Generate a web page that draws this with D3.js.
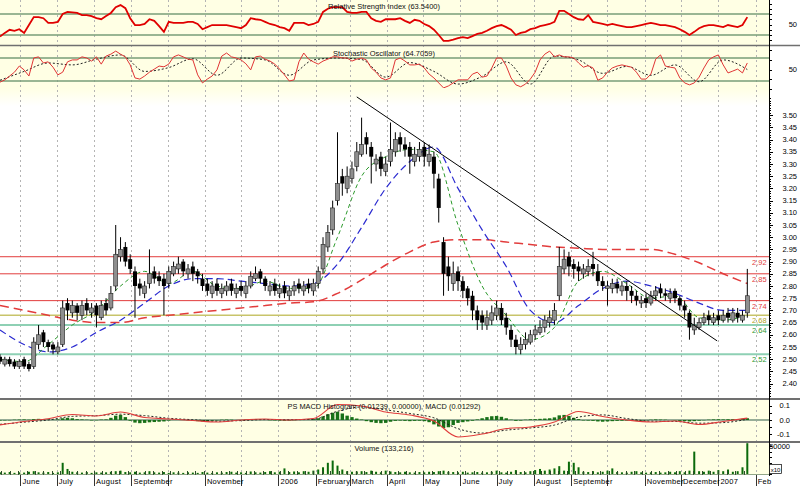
<!DOCTYPE html>
<html><head><meta charset="utf-8">
<script src="https://cdn.jsdelivr.net/npm/d3@7"></script>
<style>body{margin:0;background:#fff} svg{display:block} text{font-family:"Liberation Sans",Arial,sans-serif}</style>
</head><body><svg id="c" width="800" height="486"></svg>
<script>
// ---------------- DATA ----------------
const startDate = "2005-05-15";   // first sample
const stepDays = 4;               // sample spacing (calendar days)
const sparseEvery = 5;            // moving averages / MACD lines sampled every 5th point
const axisStart = "2005-05-15", axisEnd = "2007-02-12";

const priceOpen = [
2.51,2.48,2.50,2.49,2.47,2.50,2.48,2.47,2.56,2.61,
2.57,2.56,2.53,2.56,2.73,2.69,2.72,2.68,2.73,2.69,
2.72,2.67,2.73,2.71,2.80,2.92,2.96,2.91,2.86,2.81,
2.77,2.81,2.86,2.84,2.83,2.81,2.85,2.87,2.90,2.85,
2.88,2.86,2.83,2.81,2.77,2.81,2.77,2.78,2.81,2.77,
2.80,2.77,2.80,2.83,2.86,2.83,2.78,2.81,2.77,2.80,
2.76,2.78,2.81,2.78,2.81,2.78,2.81,2.87,2.96,3.03,
3.15,3.25,3.20,3.24,3.29,3.34,3.41,3.37,3.30,3.33,
3.27,3.31,3.35,3.41,3.38,3.37,3.31,3.33,3.37,3.31,
3.33,3.24,2.98,2.88,2.81,2.86,2.82,2.79,2.76,2.70,
2.68,2.64,2.66,2.68,2.71,2.67,2.62,2.58,2.54,2.56,
2.57,2.60,2.61,2.63,2.65,2.66,2.76,2.87,2.92,2.89,
2.88,2.85,2.86,2.89,2.86,2.82,2.79,2.79,2.81,2.78,
2.80,2.78,2.76,2.73,2.75,2.73,2.76,2.79,2.77,2.75,
2.78,2.75,2.72,2.69,2.62,2.63,2.65,2.68,2.65,2.68,
2.66,2.69,2.66,2.69,2.66,2.69];
const priceHigh = [
2.52,2.51,2.51,2.50,2.50,2.51,2.49,2.59,2.64,2.62,
2.58,2.57,2.57,2.74,2.75,2.74,2.73,2.74,2.75,2.73,
2.73,2.74,2.75,2.80,3.05,3.00,2.98,2.93,2.88,2.83,
2.82,2.95,2.88,2.86,2.85,2.88,2.90,2.92,2.91,2.89,
2.90,2.87,2.85,2.83,2.82,2.83,2.81,2.82,2.83,2.81,
2.82,2.82,2.86,2.88,2.87,2.84,2.82,2.83,2.81,2.82,
2.80,2.82,2.83,2.82,2.83,2.83,2.88,3.00,3.05,3.15,
3.43,3.28,3.29,3.31,3.39,3.49,3.43,3.39,3.34,3.35,
3.33,3.47,3.43,3.43,3.41,3.39,3.37,3.39,3.39,3.38,
3.35,3.26,3.00,2.92,2.90,2.88,2.84,2.80,2.78,2.72,
2.70,2.70,2.72,2.74,2.73,2.69,2.64,2.60,2.59,2.61,
2.62,2.64,2.66,2.68,2.70,2.73,2.96,2.95,2.94,2.91,
2.90,2.89,2.91,2.94,2.89,2.84,2.82,2.83,2.83,2.82,
2.82,2.80,2.78,2.76,2.77,2.78,2.80,2.81,2.79,2.79,
2.79,2.76,2.74,2.70,2.67,2.67,2.69,2.70,2.69,2.70,
2.70,2.71,2.71,2.71,2.70,2.87];
const priceLow = [
2.48,2.47,2.47,2.46,2.46,2.46,2.45,2.46,2.54,2.55,
2.53,2.52,2.52,2.55,2.66,2.67,2.66,2.66,2.68,2.67,
2.63,2.66,2.68,2.70,2.78,2.90,2.88,2.85,2.67,2.76,
2.75,2.79,2.81,2.80,2.68,2.79,2.84,2.85,2.84,2.83,
2.82,2.81,2.78,2.76,2.75,2.76,2.75,2.76,2.76,2.75,
2.76,2.75,2.79,2.82,2.81,2.78,2.76,2.76,2.75,2.75,
2.74,2.76,2.77,2.76,2.77,2.76,2.79,2.85,2.94,3.01,
3.13,3.17,3.18,3.22,3.27,3.33,3.34,3.22,3.27,3.25,
3.25,3.29,3.33,3.35,3.33,3.26,3.29,3.31,3.29,3.29,
3.20,3.06,2.76,2.78,2.78,2.78,2.75,2.72,2.66,2.62,
2.62,2.62,2.64,2.66,2.64,2.60,2.55,2.52,2.52,2.54,
2.56,2.58,2.60,2.61,2.63,2.64,2.74,2.85,2.84,2.83,
2.82,2.83,2.84,2.84,2.80,2.78,2.72,2.77,2.77,2.76,
2.74,2.73,2.72,2.71,2.71,2.72,2.74,2.75,2.74,2.73,
2.73,2.70,2.67,2.58,2.60,2.62,2.64,2.64,2.64,2.64,
2.65,2.65,2.65,2.65,2.65,2.67];
const priceClose = [
2.49,2.50,2.48,2.47,2.49,2.47,2.46,2.57,2.60,2.57,
2.55,2.54,2.55,2.71,2.70,2.72,2.69,2.72,2.70,2.71,
2.68,2.72,2.70,2.77,2.93,2.95,2.90,2.87,2.80,2.79,
2.80,2.85,2.83,2.82,2.80,2.86,2.88,2.89,2.86,2.87,
2.85,2.84,2.80,2.78,2.80,2.78,2.79,2.80,2.78,2.79,
2.78,2.80,2.84,2.85,2.83,2.80,2.80,2.78,2.79,2.77,
2.78,2.80,2.79,2.80,2.79,2.81,2.86,2.97,3.02,3.12,
3.22,3.22,3.25,3.28,3.35,3.38,3.38,3.33,3.32,3.28,
3.30,3.36,3.40,3.38,3.36,3.33,3.34,3.36,3.33,3.34,
3.26,3.12,2.85,2.84,2.85,2.82,2.78,2.75,2.70,2.66,
2.65,2.67,2.69,2.71,2.66,2.63,2.58,2.55,2.56,2.58,
2.60,2.62,2.63,2.66,2.67,2.70,2.88,2.91,2.88,2.87,
2.86,2.87,2.88,2.87,2.82,2.80,2.80,2.81,2.79,2.80,
2.78,2.76,2.74,2.74,2.73,2.76,2.78,2.77,2.76,2.77,
2.75,2.72,2.70,2.63,2.64,2.65,2.67,2.66,2.67,2.66,
2.68,2.67,2.69,2.67,2.68,2.76];

// moving averages (every 5th sample)
const maShort = [2.50,2.49,2.56,2.64,2.70,2.80,2.86,2.81,2.86,2.80,
 2.79,2.82,2.79,2.79,3.00,3.25,3.33,3.36,3.35,3.05,
 2.80,2.68,2.58,2.63,2.82,2.86,2.81,2.75,2.76,2.67,2.66,2.68];
const maMid = [2.62,2.56,2.53,2.55,2.61,2.66,2.73,2.80,2.83,2.83,
 2.82,2.81,2.80,2.81,2.89,3.04,3.20,3.31,3.37,3.20,
 3.03,2.88,2.70,2.65,2.72,2.79,2.82,2.80,2.77,2.73,2.70,2.70];
const maLong = [2.72,2.70,2.68,2.66,2.65,2.65,2.67,2.68,2.69,2.70,
 2.71,2.72,2.73,2.735,2.77,2.825,2.886,2.94,2.98,2.99,
 2.99,2.98,2.97,2.96,2.955,2.95,2.95,2.95,2.93,2.895,2.85,2.81];

const levelValues = [2.92, 2.85, 2.74, 2.68, 2.64, 2.52];
const levelLabels = ["2,92","2,85","2,74","2,68","2,64","2,52"];
const trendDates = ["2006-03-07","2006-12-31"];
const trendValues = [3.575, 2.575];

const rsi = [
27,34,40,38,41,34,49,64,64,62,
53,53,55,70,74,73,72,68,68,66,
62,60,66,72,83,87,81,62,49,49,
51,60,57,47,36,55,53,53,53,55,
55,51,41,45,49,49,49,49,47,45,
43,49,62,60,59,55,51,49,45,43,
38,53,53,53,49,51,55,74,80,83,
83,83,74,72,72,74,74,62,57,55,
60,60,60,62,57,53,59,57,51,47,
40,30,19,19,21,24,26,24,28,32,
34,38,43,47,49,45,40,30,34,36,
41,43,47,49,51,55,76,76,70,64,
60,59,68,55,53,51,49,51,49,47,
45,45,47,49,51,53,51,49,49,47,
45,41,36,30,36,43,47,49,49,47,
45,49,47,45,49,64];
const stochK = [
17,23,33,43,59,49,33,80,83,67,
70,56,36,43,70,75,75,83,80,72,
83,64,85,90,98,90,83,62,28,25,
33,43,51,59,57,64,83,88,83,77,
75,36,15,25,33,49,85,93,83,80,
75,65,49,83,85,77,72,64,51,36,
20,23,70,93,77,70,64,72,77,83,
83,80,80,72,77,80,75,54,43,28,
23,28,75,80,72,62,62,64,54,38,
28,15,2,7,15,23,23,23,38,43,
30,33,54,80,80,59,28,10,5,12,
25,43,75,90,98,83,88,83,83,80,
67,56,60,54,22,28,43,54,59,62,
59,56,43,25,25,38,77,88,59,56,
54,28,15,10,15,30,54,75,83,88,
62,41,46,51,41,67];
const stochD = [22,45,67,62,77,88,45,55,78,35,80,75,35,75,80,76,30,68,45,12,
 32,70,12,85,75,40,58,35,62,18,75,50];

const macdLine = [-0.034,-0.010,0.009,0.038,0.028,0.055,0.017,0.007,-0.003,-0.014,
 0.000,0.007,0.000,0.010,0.107,0.097,0.055,0.034,-0.007,-0.117,
 -0.097,-0.059,-0.048,-0.014,0.059,0.024,0.000,-0.014,-0.007,-0.031,-0.010,0.013];
const macdSignal = [-0.030,-0.015,0.000,0.025,0.030,0.040,0.030,0.012,0.002,-0.008,
 -0.004,0.003,0.002,0.005,0.060,0.090,0.070,0.045,0.015,-0.060,
 -0.090,-0.070,-0.055,-0.035,0.020,0.035,0.010,-0.008,-0.010,-0.022,-0.018,0.005];
const macdHist = [
-0.004,-0.003,-0.002,0.002,0.003,0.004,0.002,0.006,0.008,0.005,
0.003,0.002,0.004,0.012,0.015,0.012,0.006,0.004,0.002,-0.003,
-0.002,0.003,0.004,0.015,0.030,0.035,0.020,-0.005,-0.018,-0.022,
-0.020,-0.016,-0.014,-0.012,-0.010,-0.004,0.002,0.003,0.002,-0.002,
-0.006,-0.008,-0.010,-0.008,-0.005,-0.003,0.002,0.003,0.002,0.000,
-0.002,0.003,0.006,0.005,0.003,0.001,-0.002,-0.003,-0.004,-0.005,
-0.004,-0.002,0.002,0.003,0.004,0.006,0.012,0.025,0.040,0.050,
0.057,0.045,0.030,0.020,0.010,0.003,-0.008,-0.015,-0.020,-0.022,
-0.020,-0.012,-0.006,-0.004,-0.006,-0.008,-0.006,-0.005,-0.008,-0.015,
-0.030,-0.045,-0.055,-0.050,-0.035,-0.020,-0.015,-0.010,-0.005,0.004,
0.012,0.020,0.026,0.028,0.022,0.012,0.002,-0.006,-0.004,0.002,
0.005,0.006,0.008,0.010,0.012,0.018,0.032,0.035,0.028,0.015,
0.006,-0.003,-0.004,-0.006,-0.010,-0.012,-0.010,-0.008,-0.006,-0.005,
-0.004,-0.005,-0.006,-0.004,-0.002,0.002,0.004,0.003,0.002,0.000,
-0.003,-0.006,-0.008,-0.010,-0.008,-0.005,-0.002,0.002,0.004,0.005,
0.004,0.005,0.006,0.006,0.008,0.012];
const volume = [
3000,2500,3500,2000,3000,2500,4000,5000,3000,2500,
3500,2000,3000,20000,9000,4000,3000,2500,3500,2000,
3000,2500,3000,4000,5000,6000,3500,3000,4000,2500,
3000,5000,3000,2500,3500,2000,3000,2500,2000,3000,
2500,2000,3500,2500,2000,3000,2500,3500,4000,2500,
3000,2000,4500,3000,2500,3500,5000,3000,4000,10000,
3500,4500,3000,5000,4000,6000,8000,12000,20000,24000,
15000,8000,5000,4000,4500,5000,3500,6000,4000,3000,
6000,4500,3500,3000,4000,3000,2500,3500,3000,4000,
3500,5000,6000,4000,3500,3000,4000,2500,3000,3500,
2500,3000,4000,6000,3000,2500,4000,7000,3500,3000,
5000,7000,9000,6000,8000,10000,14000,6000,22000,20000,
12000,4000,3500,5000,3000,4000,6000,10000,3500,3000,
2500,4000,5000,3000,2500,3000,3500,2500,3000,4000,
3000,5000,3000,6000,40000,5000,4000,6000,4000,7000,
5000,8000,4000,5000,12000,55000];

const monthLabelDates = ["2005-06-01","2005-07-01","2005-08-01","2005-09-01","2005-11-01","2006-01-01","2006-02-01","2006-03-01","2006-04-01","2006-05-01","2006-06-01","2006-07-01","2006-08-01","2006-09-01","2006-11-01","2006-12-01","2007-01-01","2007-02-01"];
const monthLabels = ["June","July","August","September","November","2006","February","March","April","May","June","July","August","September","November","December","2007","Feb"];
const priceTicks = d3.range(2.40, 3.5001, 0.05);

const titles = {
  rsi: "Relative Strength Index (63.5400)",
  sto: "Stochastic Oscillator (64.7059)",
  macd: "PS MACD Histogram (0.01239, 0.00000), MACD (0.01292)",
  vol: "Volume (133,216)"
};

// ---------------- LAYOUT ----------------
const svg = d3.select("#c");
const W = 800, R = 769;
const parse = d3.timeParse("%Y-%m-%d");
const t0 = parse(startDate);
const dates = priceClose.map((_, i) => d3.timeDay.offset(t0, i * stepDays));
const sDates = dates.filter((_, i) => i % sparseEvery === 0);
const x = d3.scaleTime().domain([parse(axisStart), parse(axisEnd)]).range([0, R]);

const rsiY = d3.scaleLinear().domain([30, 70]).range([35, 14]);
const stoY = d3.scaleLinear().domain([20, 80]).range([81, 58]);
const pY = d3.scaleLinear().domain([2.40, 3.50]).range([383.6, 115.2]);
const mY = d3.scaleLinear().domain([-0.1, 0.1]).range([434.5, 405.5]);
const vY = d3.scaleLinear().domain([0, 50000]).range([474, 446]);

const bgYellow = "#ffffe4";
const defs = svg.append("defs");
const grad = defs.append("linearGradient").attr("id","pg").attr("x1",0).attr("x2",0).attr("y1",0).attr("y2",1);
grad.append("stop").attr("offset","0%").attr("stop-color",bgYellow);
grad.append("stop").attr("offset","100%").attr("stop-color","#ffffff");
function clip(id, y0, y1){ defs.append("clipPath").attr("id",id).append("rect").attr("x",0).attr("y",y0).attr("width",R).attr("height",y1-y0); return `url(#${id})`; }
const cRsi = clip("cr",0,45), cSto = clip("cs",46,88), cPrice = clip("cp",88,398), cMacd = clip("cm",400,441), cVol = clip("cv",443,475);

svg.append("rect").attr("width",W).attr("height",486).attr("fill","#fff");
[[0,45],[46,88],[400,441],[443,475]].forEach(([a,b]) =>
  svg.append("rect").attr("x",0).attr("y",a).attr("width",R).attr("height",b-a).attr("fill",bgYellow));
svg.append("rect").attr("x",0).attr("y",88).attr("width",R).attr("height",18).attr("fill","url(#pg)");

// vertical month grid
const months = d3.timeMonth.range(parse("2005-06-01"), parse("2007-02-02"));
svg.append("g").selectAll("line").data(months).join("line")
  .attr("x1", d => Math.round(x(d)) + 0.5).attr("x2", d => Math.round(x(d)) + 0.5)
  .attr("y1", 0).attr("y2", 475)
  .attr("stroke", "#b4b4b4").attr("stroke-dasharray", "2,3");

const green = "#789e78";
function hline(y, color, w, x0 = 0, x1 = R){
  svg.append("line").attr("x1",x0).attr("x2",x1).attr("y1",y).attr("y2",y).attr("stroke",color).attr("stroke-width",w);
}
// RSI panel
hline(rsiY(70), green, 1.5); hline(rsiY(30), green, 1.5);
svg.append("path").attr("clip-path",cRsi)
  .attr("d", d3.line().x((d,i)=>x(dates[i])).y(d=>rsiY(d))(rsi))
  .attr("fill","none").attr("stroke","#e00000").attr("stroke-width",1.8);

// Stochastic panel
hline(stoY(80), green, 1.5); hline(stoY(20), green, 1.5);
svg.append("path").attr("clip-path",cSto)
  .attr("d", d3.line().x((d,i)=>x(sDates[i])).y(d=>stoY(d)).curve(d3.curveMonotoneX)(stochD))
  .attr("fill","none").attr("stroke","#222").attr("stroke-width",1).attr("stroke-dasharray","2,2");
svg.append("path").attr("clip-path",cSto)
  .attr("d", d3.line().x((d,i)=>x(dates[i])).y(d=>stoY(d))(stochK))
  .attr("fill","none").attr("stroke","#e03434").attr("stroke-width",1);

// Price panel
const gp = svg.append("g").attr("clip-path", cPrice);
const levelColors = ["#e23c3c","#e23c3c","#e23c3c","#c8c46a","#8ed0b4","#8ed0b4"];
const levelWidths = [1,1,1,1.5,2,2];
const labelColors = ["#e23c3c","#e23c3c","#e23c3c","#b0a428","#2f9a2f","#2f9a2f"];
levelValues.forEach((v,i) => {
  gp.append("line").attr("x1",0).attr("x2",R).attr("y1",pY(v)).attr("y2",pY(v))
    .attr("stroke",levelColors[i]).attr("stroke-width",levelWidths[i]);
});
// moving averages
const maLine = arr => d3.line().x((d,i)=>x(sDates[i])).y(d=>pY(d)).curve(d3.curveMonotoneX)(arr);
gp.append("path").attr("d", maLine(maLong)).attr("fill","none").attr("stroke","#e23c3c").attr("stroke-width",1.5).attr("stroke-dasharray","9,5");
gp.append("path").attr("d", maLine(maMid)).attr("fill","none").attr("stroke","#2a2ad0").attr("stroke-width",1.2).attr("stroke-dasharray","7,4");
gp.append("path").attr("d", maLine(maShort)).attr("fill","none").attr("stroke","#2c9a2c").attr("stroke-width",1).attr("stroke-dasharray","4,3");
// candles
const idx = d3.range(priceClose.length);
gp.append("g").selectAll("line").data(idx).join("line")
  .attr("x1", i => x(dates[i])).attr("x2", i => x(dates[i]))
  .attr("y1", i => pY(priceHigh[i])).attr("y2", i => pY(priceLow[i]))
  .attr("stroke","#000").attr("stroke-width",1);
gp.append("g").selectAll("rect").data(idx).join("rect")
  .attr("x", i => x(dates[i]) - 2).attr("width", 4)
  .attr("y", i => pY(Math.max(priceOpen[i], priceClose[i])))
  .attr("height", i => Math.max(1, Math.abs(pY(priceOpen[i]) - pY(priceClose[i]))))
  .attr("fill", i => priceClose[i] >= priceOpen[i] ? "#8f8f8f" : "#000")
  .attr("stroke", i => priceClose[i] >= priceOpen[i] ? "#222" : "none").attr("stroke-width",0.6);
// trendline
gp.append("line")
  .attr("x1", x(parse(trendDates[0]))).attr("y1", pY(trendValues[0]))
  .attr("x2", x(parse(trendDates[1]))).attr("y2", pY(trendValues[1]))
  .attr("stroke","#000").attr("stroke-width",1);
// level labels
levelValues.forEach((v,i) => {
  svg.append("text").attr("x",752).attr("y",pY(v)+8).text(levelLabels[i])
    .attr("font-size",7.5).attr("fill",labelColors[i]);
});

// MACD panel
svg.append("line").attr("x1",0).attr("x2",R).attr("y1",mY(0)).attr("y2",mY(0)).attr("stroke","#97ad97").attr("stroke-width",2);
const gm = svg.append("g").attr("clip-path", cMacd);
gm.append("g").selectAll("rect").data(idx).join("rect")
  .attr("x", i => x(dates[i]) - 1.7).attr("width", 3.4)
  .attr("y", i => Math.min(mY(0), mY(macdHist[i])))
  .attr("height", i => Math.abs(mY(macdHist[i]) - mY(0)))
  .attr("fill","#187018");
gm.append("path").attr("d", d3.line().x((d,i)=>x(sDates[i])).y(d=>mY(d)).curve(d3.curveMonotoneX)(macdSignal))
  .attr("fill","none").attr("stroke","#222").attr("stroke-width",1).attr("stroke-dasharray","2,2");
gm.append("path").attr("d", d3.line().x((d,i)=>x(sDates[i])).y(d=>mY(d)).curve(d3.curveMonotoneX)(macdLine))
  .attr("fill","none").attr("stroke","#e03c3c").attr("stroke-width",1.1);

// Volume panel
const gv = svg.append("g").attr("clip-path", cVol);
gv.append("g").selectAll("rect").data(idx).join("rect")
  .attr("x", i => x(dates[i]) - 1).attr("width", 2)
  .attr("y", i => vY(volume[i])).attr("height", i => vY(0) - vY(volume[i]))
  .attr("fill","#0b6a0b");
const weeks = d3.timeMonday.range(parse(axisStart), parse("2007-01-28"));
svg.append("g").selectAll("line").data(weeks).join("line")
  .attr("x1", d => Math.round(x(d))+0.5).attr("x2", d => Math.round(x(d))+0.5)
  .attr("y1", 471).attr("y2", 475).attr("stroke","#2a4a2a").attr("stroke-width",1);
svg.append("line").attr("x1",0).attr("x2",R).attr("y1",474.5).attr("y2",474.5).attr("stroke","#4a6a4a").attr("stroke-width",0.6);

// separators
[[45.5,1.6],[399,2.2],[442,2.2]].forEach(([y,w]) =>
  svg.append("line").attr("x1",0).attr("x2",W).attr("y1",y).attr("y2",y).attr("stroke","#707070").attr("stroke-width",w));

// right axis
svg.append("line").attr("x1",R+0.5).attr("x2",R+0.5).attr("y1",0).attr("y2",476).attr("stroke","#000");
function ticks(vals, scale, len, lo, hi){
  svg.append("g").selectAll("line").data(vals.filter(v => scale(v) >= lo && scale(v) <= hi)).join("line")
    .attr("x1",R).attr("x2",R+len).attr("y1",v=>Math.round(scale(v))+0.5).attr("y2",v=>Math.round(scale(v))+0.5)
    .attr("stroke","#000");
}
ticks(d3.range(0,101,10), rsiY, 3, 1, 44);
ticks(d3.range(0,101,25), stoY, 3, 47, 97);
ticks(d3.range(2.34,3.62,0.01), pY, 2, 98, 397);
ticks(priceTicks, pY, 4, 98, 397);
ticks(d3.range(-0.15,0.151,0.05), mY, 3, 400, 441);
ticks(d3.range(0,60001,10000), vY, 3, 444, 474);
const lab = (t, xx, y, anchor="end") => svg.append("text").attr("x",xx).attr("y",y).attr("dy","0.35em")
  .attr("text-anchor",anchor).attr("font-size",7.5).attr("fill","#000").text(t);
lab("50", 797, rsiY(50)); lab("50", 797, stoY(50));
priceTicks.forEach(v => lab(d3.format(".2f")(v), 797, pY(v)));
lab("0.1", 790, mY(0.1)); lab("0.0", 790, mY(0)); lab("-0.1", 790, mY(-0.1));
lab("50000", 790, vY(50000));
svg.append("rect").attr("x",769.5).attr("y",464.5).attr("width",12).attr("height",9).attr("fill","#fff").attr("stroke","#000").attr("stroke-width",0.7);
svg.append("text").attr("x",775.5).attr("y",471.5).attr("text-anchor","middle").attr("font-size",6).text("x10");

// month ticks & labels
svg.append("g").selectAll("line").data(months).join("line")
  .attr("x1", d => Math.round(x(d))+0.5).attr("x2", d => Math.round(x(d))+0.5)
  .attr("y1", 475).attr("y2", 486).attr("stroke","#333");
monthLabelDates.forEach((d,i) => {
  svg.append("text").attr("x", x(parse(d)) + 2).attr("y", 484).attr("font-size",7.5)
    .attr("letter-spacing",0.3).attr("fill","#000").text(monthLabels[i]);
});

// titles
const title = (t, y, len) => svg.append("text").attr("x",384).attr("y",y).attr("text-anchor","middle")
  .attr("font-size",8).attr("fill","#111").attr("textLength",len).attr("lengthAdjust","spacingAndGlyphs").text(t);
title(titles.rsi, 9, 112); title(titles.sto, 56, 102); title(titles.macd, 409, 193); title(titles.vol, 451, 59);
</script></body></html>
